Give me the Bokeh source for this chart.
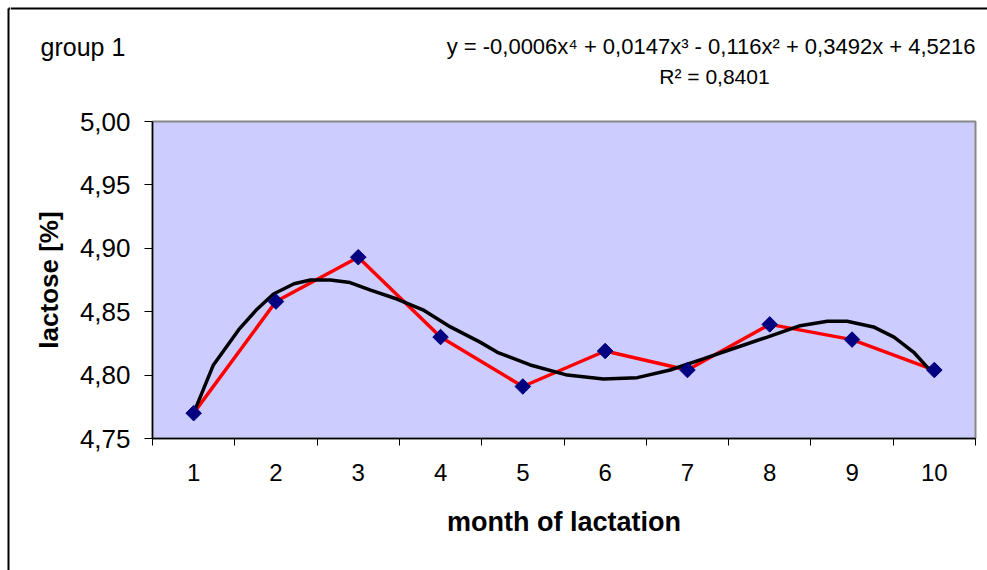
import numpy as np
from bokeh.plotting import figure
from bokeh.layouts import column, row
from bokeh.models import Range1d, FixedTicker, CustomJSTickFormatter
from bokeh.core.properties import value
from bokeh.embed import file_html
from bokeh.resources import INLINE

# ---- data ----
months = [1, 2, 3, 4, 5, 6, 7, 8, 9, 10]
month_labels = ["1", "2", "3", "4", "5", "6", "7", "8", "9", "10"]
lactose = [4.770, 4.858, 4.893, 4.830, 4.791, 4.819, 4.804, 4.840, 4.828, 4.804]

# polynomial trendline as drawn
trend_x = [1.00, 1.24, 1.55, 1.77, 1.97, 2.22, 2.42, 2.66, 2.90, 3.15, 3.47,
           3.80, 4.12, 4.48, 4.69, 5.09, 5.54, 5.98, 6.39, 6.79, 7.20, 7.56,
           7.97, 8.37, 8.70, 8.94, 9.26, 9.51, 9.75, 10.00]
trend_y = [4.770, 4.808, 4.836, 4.852, 4.864, 4.872, 4.875, 4.875, 4.873, 4.867,
           4.860, 4.851, 4.838, 4.826, 4.818, 4.808, 4.800, 4.797, 4.798, 4.804,
           4.813, 4.821, 4.830, 4.839, 4.8425, 4.8425, 4.838, 4.830, 4.818, 4.800]

y_ticks = [4.75, 4.80, 4.85, 4.90, 4.95, 5.00]

group_text = "group 1"
equation_text = "y = -0,0006x\u2074 + 0,0147x\u00b3 - 0,116x\u00b2 + 0,3492x + 4,5216"
r2_text = "R\u00b2 = 0,8401"
x_title = "month of lactation"
y_title = "lactose [%]"

FONT = "Liberation Sans"
W, H = 987, 570
TOP_H = 100      # header strip (texts above the plot area)
LEFT_W = 10      # thin strip holding the chart's left border
FRAME_TOP = 121  # canvas y of the plot area's top edge


def blank(x0, x1, height):
    f = figure(width=x1 - x0, height=height, output_backend="svg",
               toolbar_location=None, x_axis_location=None,
               y_axis_location=None, min_border=0, frame_align=False,
               x_range=Range1d(x0, x1), y_range=Range1d(height, 0))
    f.grid.visible = False
    f.outline_line_color = None
    f.background_fill_color = "white"
    f.border_fill_color = "white"
    return f


# ---- left strip with the chart's left border ----
left = blank(0, LEFT_W, H)
left.line([8, 8], [8, H], line_color="black", line_width=2)
left.line([8, LEFT_W], [8, 8], line_color="black", line_width=2)

# ---- header with the texts and the top border ----
top = blank(LEFT_W, W, TOP_H)
top.line([LEFT_W, W], [8, 8], line_color="black", line_width=2)
top.text(x=[40], y=[46], text=[group_text], text_font=value(FONT),
         text_font_size="25px", text_color="black",
         text_align="left", text_baseline="alphabetic")
top.text(x=[975], y=[46], text=[equation_text], text_font=value(FONT),
         text_font_size="22px", text_color="black",
         text_align="right", text_baseline="alphabetic")
top.text(x=[714], y=[76], text=[r2_text], text_font=value(FONT),
         text_font_size="21px", text_color="black",
         text_align="center", text_baseline="alphabetic")

# ---- main chart ----
p = figure(width=W - LEFT_W, height=H - TOP_H, output_backend="svg",
           toolbar_location=None, frame_align=False,
           x_range=Range1d(0.5, 10.5), y_range=Range1d(4.75, 5.00),
           min_border_left=152 - LEFT_W, min_border_right=12,
           min_border_top=FRAME_TOP - TOP_H, min_border_bottom=132)

p.background_fill_color = "#CCCCFF"
p.border_fill_color = "white"
p.outline_line_color = "#888888"
p.outline_line_width = 2
p.xgrid.visible = False
p.ygrid.visible = False

xa = p.xaxis[0]
xa.ticker = FixedTicker(ticks=months,
                        minor_ticks=[m - 0.5 for m in months] + [10.5])
xa.major_label_overrides = {m: lab for m, lab in zip(months, month_labels)}
xa.major_tick_line_color = None
xa.major_tick_out = 7
xa.major_tick_in = 0
xa.minor_tick_out = 7
xa.minor_tick_in = 0
xa.minor_tick_line_color = "black"
xa.axis_line_color = "black"
xa.axis_line_width = 1.5
xa.major_label_text_font = FONT
xa.major_label_text_font_size = "24px"
xa.major_label_text_color = "black"
xa.major_label_standoff = 18
xa.axis_label = x_title
xa.axis_label_text_font = FONT
xa.axis_label_text_font_style = "bold"
xa.axis_label_text_font_size = "27px"
xa.axis_label_text_color = "black"
xa.axis_label_standoff = 23

ya = p.yaxis[0]
ya.ticker = FixedTicker(ticks=y_ticks, minor_ticks=[])
ya.formatter = CustomJSTickFormatter(code="return tick.toFixed(2).replace('.', ',');")
ya.major_tick_out = 8
ya.major_tick_in = 0
ya.axis_line_color = "black"
ya.axis_line_width = 1.5
ya.major_tick_line_color = "black"
ya.major_label_text_font = FONT
ya.major_label_text_font_size = "26px"
ya.major_label_text_color = "black"
ya.major_label_standoff = 14
ya.axis_label = y_title
ya.axis_label_text_font = FONT
ya.axis_label_text_font_style = "bold"
ya.axis_label_text_font_size = "26px"
ya.axis_label_text_color = "black"
ya.axis_label_standoff = 13

p.line(months, lactose, line_color="#FF0000", line_width=3.5)
p.line(trend_x, trend_y, line_color="black", line_width=3.5)
p.scatter(months, lactose, marker="square", angle=np.pi / 4, size=11,
          fill_color="#000080", line_color="#000080")

layout = row(left, column(top, p, spacing=0), spacing=0)

open("out.html", "w").write(file_html(layout, INLINE))
